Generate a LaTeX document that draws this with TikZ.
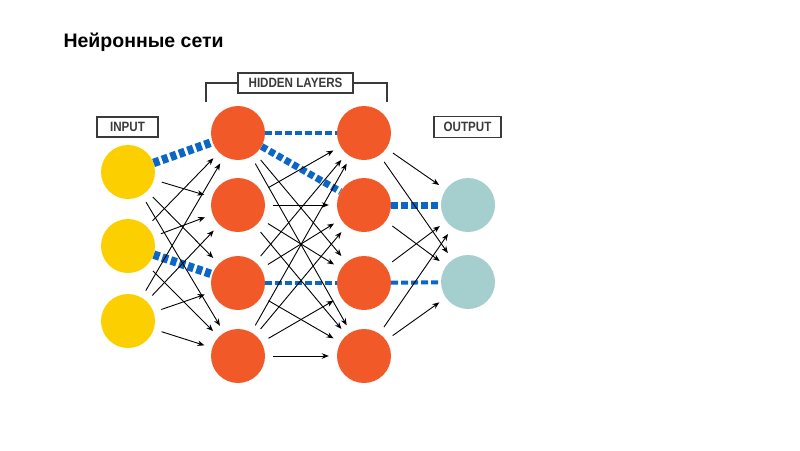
\documentclass[tikz,border=0pt]{standalone}
\usepackage{fontspec}
\setmainfont{Liberation Sans}
\newfontfamily\labelfont[FakeStretch=0.86]{Liberation Sans}
\usetikzlibrary{arrows.meta}
\definecolor{inyellow}{HTML}{FCD000}
\definecolor{hidorange}{HTML}{F15A28}
\definecolor{outteal}{HTML}{A5CECE}
\definecolor{linkblue}{HTML}{0B66C6}
\definecolor{boxgray}{HTML}{3A3A3A}
\begin{document}
\begin{tikzpicture}[x=1pt,y=-1pt,
  neuron/.style={circle,minimum size=54pt,inner sep=0pt,draw=none},
  inneuron/.style={neuron,fill=inyellow},
  hidneuron/.style={neuron,fill=hidorange},
  outneuron/.style={neuron,fill=outteal},
  conn/.style={-{Stealth[length=7pt,width=5.5pt]},line width=0.9pt,shorten <=8pt,shorten >=8pt},
  thickdash/.style={draw=linkblue,line width=8.5pt,dash pattern=on 6pt off 3pt},
  thindash/.style={draw=linkblue,line width=4pt,dash pattern=on 7pt off 3pt},
  labelbox/.style={draw=boxgray,line width=1.3pt,text=boxgray,inner sep=0pt,minimum height=20pt,
    font=\labelfont\bfseries\fontsize{13.5}{13.5}\selectfont},
  bracket/.style={draw=boxgray,line width=1.3pt}
]
\useasboundingbox (0,0) rectangle (800,450);

\node[anchor=base west,font=\bfseries\fontsize{19.5}{20}\selectfont] (title) at (60,47) {Нейронные сети};

% neurons
\node[inneuron] (i1) at (128,172) {};
\node[inneuron] (i2) at (128,246) {};
\node[inneuron] (i3) at (128,321) {};
\node[hidneuron] (a1) at (238,133) {};
\node[hidneuron] (a2) at (238,205) {};
\node[hidneuron] (a3) at (238,283) {};
\node[hidneuron] (a4) at (238,356) {};
\node[hidneuron] (b1) at (364,133) {};
\node[hidneuron] (b2) at (364,205) {};
\node[hidneuron] (b3) at (364,283) {};
\node[hidneuron] (b4) at (364,356) {};
\node[outneuron] (o1) at (468,205) {};
\node[outneuron] (o2) at (468,282) {};

% labels
\node[labelbox,minimum width=61pt] (inlab) at (127.5,127) {INPUT};
\node[labelbox,minimum width=115pt] (hidlab) at (295.5,83) {HIDDEN LAYERS};
\node[labelbox,minimum width=67pt,minimum height=21pt] (outlab) at (467.5,127) {OUTPUT};
\coordinate (bl) at (206,102);
\coordinate (br) at (387,102);
\draw[bracket] (bl) |- (hidlab.west);
\draw[bracket] (br) |- (hidlab.east);

% highlighted paths
\draw[thickdash] (i1) -- (a1);
\draw[thickdash] (i2) -- (a3);
\draw[thindash] (a1) -- (b1);
\draw[thickdash,line width=7pt] (a1) -- (b2);
\draw[thindash] (a3) -- (b3);
\draw[thickdash,line width=7pt,dash pattern=on 7pt off 3pt] (b2) -- (o1);
\draw[thindash] (b3) -- (o2);

% input -> hidden 1
\draw[conn] (i1) -- (a2);
\draw[conn] (i1) -- (a3);
\draw[conn] (i1) -- (a4);
\draw[conn] (i2) -- (a1);
\draw[conn] (i2) -- (a2);
\draw[conn] (i2) -- (a4);
\draw[conn] (i3) -- (a1);
\draw[conn] (i3) -- (a2);
\draw[conn] (i3) -- (a3);
\draw[conn] (i3) -- (a4);

% hidden 1 -> hidden 2
\draw[conn] (a1) -- (b3);
\draw[conn] (a1) -- (b4);
\draw[conn] (a2) -- (b1);
\draw[conn] (a2) -- (b2);
\draw[conn] (a2) -- (b3);
\draw[conn] (a2) -- (b4);
\draw[conn] (a3) -- (b1);
\draw[conn] (a3) -- (b2);
\draw[conn] (a3) -- (b4);
\draw[conn] (a4) -- (b1);
\draw[conn] (a4) -- (b2);
\draw[conn] (a4) -- (b3);
\draw[conn] (a4) -- (b4);

% hidden 2 -> output
\draw[conn] (b1) -- (o1);
\draw[conn] (b1) -- (o2);
\draw[conn] (b2) -- (o2);
\draw[conn] (b3) -- (o1);
\draw[conn] (b4) -- (o1);
\draw[conn] (b4) -- (o2);
\end{tikzpicture}
\end{document}
